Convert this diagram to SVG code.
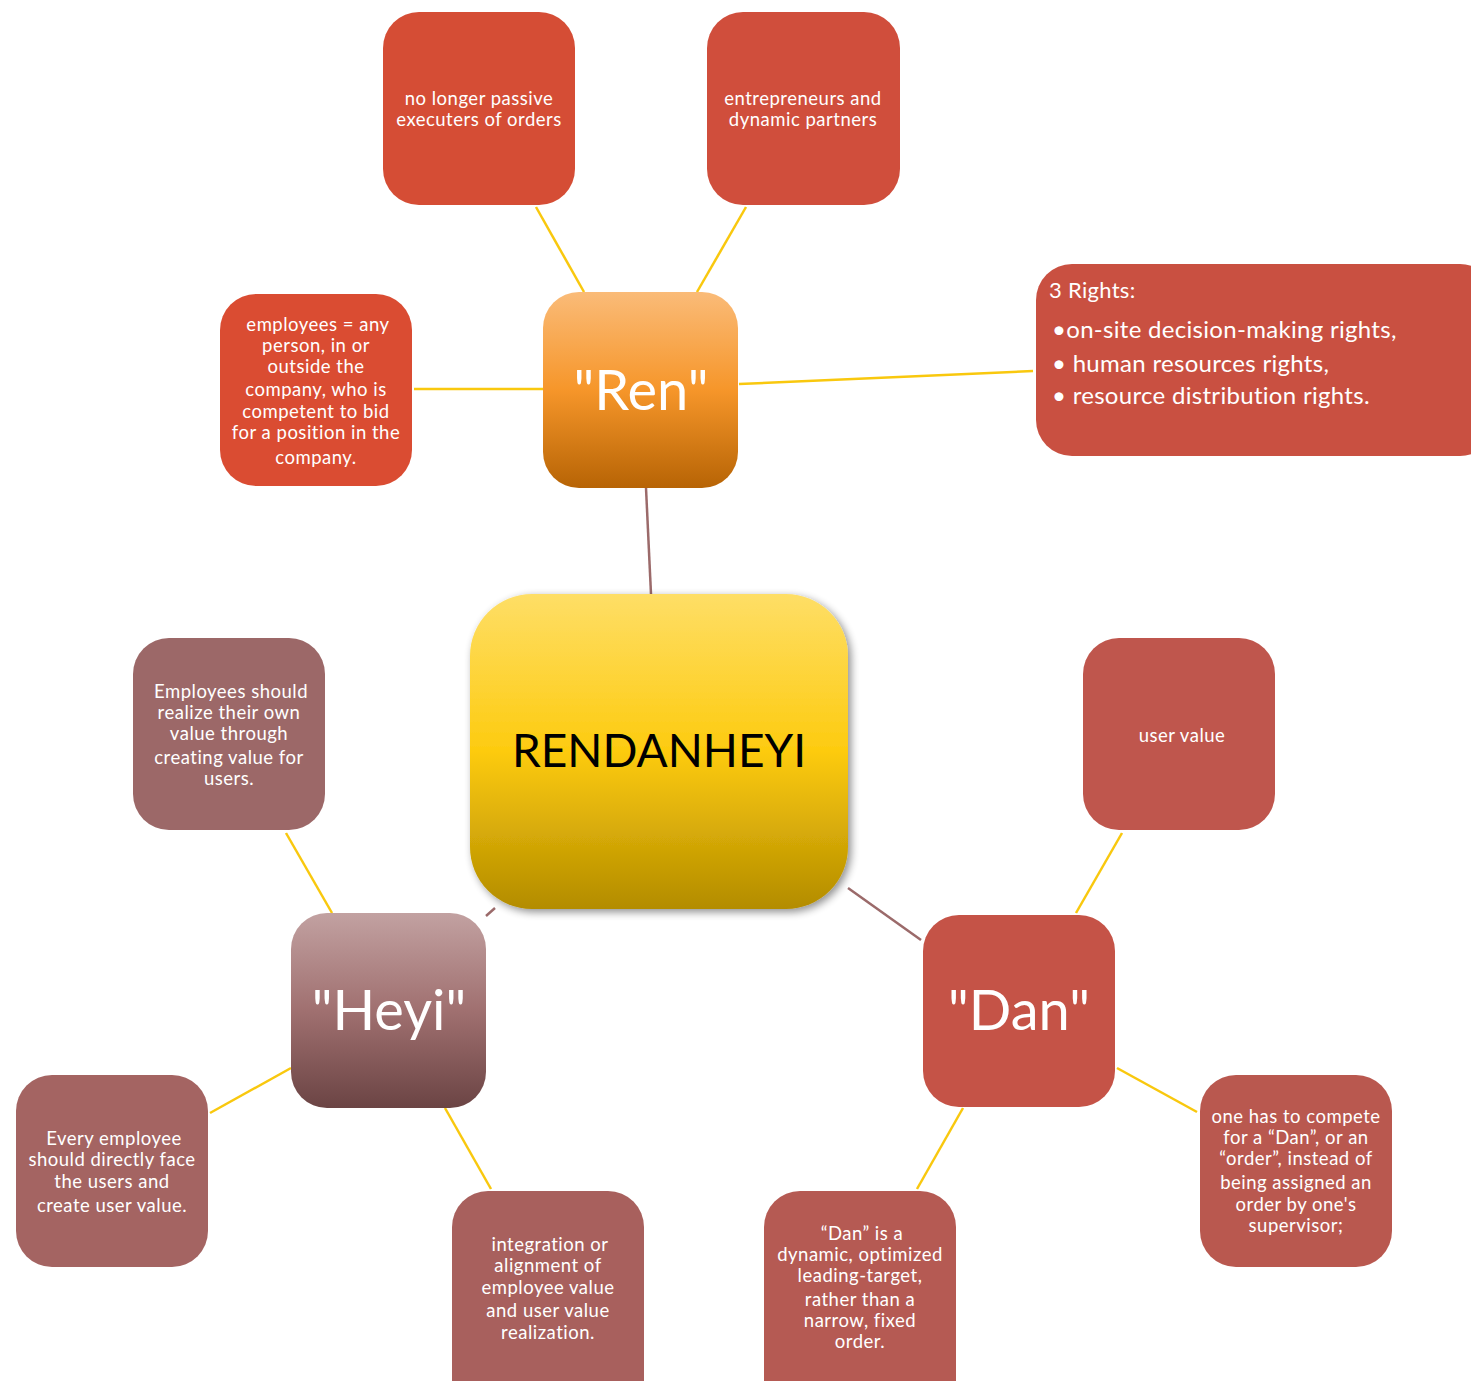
<svg xmlns="http://www.w3.org/2000/svg" width="1471" height="1381" viewBox="0 0 1471 1381">
<defs>
<linearGradient id="gRen" x1="0" y1="0" x2="0" y2="1">
<stop offset="0" stop-color="#FABB78"/><stop offset="0.5" stop-color="#F6962A"/><stop offset="1" stop-color="#B76405"/>
</linearGradient>
<linearGradient id="gCenter" x1="0" y1="0" x2="0" y2="1">
<stop offset="0" stop-color="#FEDE66"/><stop offset="0.5" stop-color="#FDCB0F"/><stop offset="1" stop-color="#B38C00"/>
</linearGradient>
<linearGradient id="gHeyi" x1="0" y1="0" x2="0" y2="1">
<stop offset="0" stop-color="#C2A1A1"/><stop offset="0.5" stop-color="#A07070"/><stop offset="1" stop-color="#6B4444"/>
</linearGradient>
<filter id="shadow" x="-10%" y="-10%" width="125%" height="125%">
<feGaussianBlur in="SourceAlpha" stdDeviation="4"/>
<feOffset dx="3" dy="3" result="b"/>
<feComponentTransfer><feFuncA type="linear" slope="0.45"/></feComponentTransfer>
<feMerge><feMergeNode/><feMergeNode in="SourceGraphic"/></feMerge>
</filter>
</defs>
<style>
.t{font-family:Lato,"Noto Sans","Liberation Sans",sans-serif;fill:#fff;text-anchor:middle;font-size:18.5px;letter-spacing:0.5px}
.big{font-family:Lato,"Noto Sans","Liberation Sans",sans-serif;fill:#fff;text-anchor:middle;font-size:56px}
.r{font-family:Lato,"Noto Sans","Liberation Sans",sans-serif;fill:#fff;font-size:24px;letter-spacing:0.3px}
.y{stroke:#F9C80E;stroke-width:2.5;fill:none}
.m{stroke:#9B6A6A;stroke-width:2.5;fill:none}
</style>
<rect width="1471" height="1381" fill="#fff"/>
<g id="connectors">
<line class="y" x1="584" y1="292" x2="536" y2="207"/>
<line class="y" x1="697" y1="292" x2="746" y2="207"/>
<line class="y" x1="543" y1="389" x2="414" y2="389"/>
<line class="y" x1="739" y1="384" x2="1033" y2="371"/>
<line class="m" x1="646" y1="488" x2="651" y2="594"/>
<line class="m" x1="486" y1="916" x2="495" y2="908"/>
<line class="m" x1="848" y1="888" x2="921" y2="940"/>
<line class="y" x1="332" y1="913" x2="286" y2="833"/>
<line class="y" x1="291" y1="1068" x2="210" y2="1113"/>
<line class="y" x1="445" y1="1108" x2="491" y2="1189"/>
<line class="y" x1="1076" y1="913" x2="1122" y2="833"/>
<line class="y" x1="1117" y1="1068" x2="1197" y2="1112"/>
<line class="y" x1="963" y1="1108" x2="917" y2="1189"/>
</g>
<g id="n-nolonger">
<rect x="383" y="12" width="192" height="193" rx="36" fill="#D54D35"/>
<text class="t" x="479" y="105">no longer passive</text>
<text class="t" x="479" y="126">executers of orders</text>
</g>
<g id="n-entre">
<rect x="707" y="12" width="193" height="193" rx="36" fill="#D04E3C"/>
<text class="t" x="803" y="105">entrepreneurs and</text>
<text class="t" x="803" y="126">dynamic partners</text>
</g>
<g id="n-employees">
<rect x="220" y="294" width="192" height="192" rx="36" fill="#DA4C32"/>
<text class="t" x="318" y="331">employees = any</text>
<text class="t" x="316" y="352">person, in or</text>
<text class="t" x="316" y="373">outside the</text>
<text class="t" x="316" y="396">company, who is</text>
<text class="t" x="316" y="418">competent to bid</text>
<text class="t" x="316" y="439">for a position in the</text>
<text class="t" x="316" y="464">company.</text>
</g>
<g id="n-ren">
<rect x="543" y="292" width="195" height="196" rx="36" fill="url(#gRen)"/>
<text class="big" x="641" y="410">"Ren"</text>
</g>
<g id="n-rights">
<rect x="1036" y="264" width="460" height="192" rx="36" fill="#C95041"/>
<text class="r" style="font-size:22px" x="1049" y="298">3 Rights:</text>
<text class="r" x="1052" y="338">•on-site decision-making rights,</text>
<text class="r" x="1052" y="372">•  human resources rights,</text>
<text class="r" x="1052" y="404">•  resource distribution rights.</text>
</g>
<g id="n-center">
<rect x="470" y="594" width="378" height="315" rx="62" fill="url(#gCenter)" filter="url(#shadow)"/>
<text style="font-family:Lato,'Noto Sans','Liberation Sans',sans-serif;fill:#000;font-size:46px;text-anchor:middle" x="659" y="767">RENDANHEYI</text>
</g>
<g id="n-empshould">
<rect x="133" y="638" width="192" height="192" rx="36" fill="#9C6868"/>
<text class="t" x="231" y="698">Employees should</text>
<text class="t" x="229" y="719">realize their own</text>
<text class="t" x="229" y="740">value through</text>
<text class="t" x="229" y="764">creating value for</text>
<text class="t" x="229" y="785">users.</text>
</g>
<g id="n-uservalue">
<rect x="1083" y="638" width="192" height="192" rx="36" fill="#BF564D"/>
<text class="t" x="1182" y="742">user value</text>
</g>
<g id="n-heyi">
<rect x="291" y="913" width="195" height="195" rx="36" fill="url(#gHeyi)"/>
<text class="big" x="389" y="1030">"Heyi"</text>
</g>
<g id="n-dan">
<rect x="923" y="915" width="192" height="192" rx="36" fill="#C55347"/>
<text class="big" x="1019" y="1030">"Dan"</text>
</g>
<g id="n-every">
<rect x="16" y="1075" width="192" height="192" rx="36" fill="#A46462"/>
<text class="t" x="114" y="1145">Every employee</text>
<text class="t" x="112" y="1166">should directly face</text>
<text class="t" x="112" y="1188">the users and</text>
<text class="t" x="112" y="1212">create user value.</text>
</g>
<g id="n-integration">
<rect x="452" y="1191" width="192" height="230" rx="36" fill="#A8605D"/>
<text class="t" x="550" y="1251">integration or</text>
<text class="t" x="548" y="1272">alignment of</text>
<text class="t" x="548" y="1294">employee value</text>
<text class="t" x="548" y="1317">and user value</text>
<text class="t" x="548" y="1339">realization.</text>
</g>
<g id="n-danis">
<rect x="764" y="1191" width="192" height="230" rx="36" fill="#B55A53"/>
<text class="t" x="862" y="1240">“Dan” is a</text>
<text class="t" x="860" y="1261">dynamic, optimized</text>
<text class="t" x="860" y="1282">leading-target,</text>
<text class="t" x="860" y="1306">rather than a</text>
<text class="t" x="860" y="1327">narrow, fixed</text>
<text class="t" x="860" y="1348">order.</text>
</g>
<g id="n-compete">
<rect x="1200" y="1075" width="192" height="192" rx="36" fill="#B9584F"/>
<text class="t" x="1296" y="1123">one has to compete</text>
<text class="t" x="1296" y="1144">for a “Dan”, or an</text>
<text class="t" x="1296" y="1165">“order”, instead of</text>
<text class="t" x="1296" y="1189">being assigned an</text>
<text class="t" x="1296" y="1211">order by one's</text>
<text class="t" x="1296" y="1232">supervisor;</text>
</g>
</svg>
